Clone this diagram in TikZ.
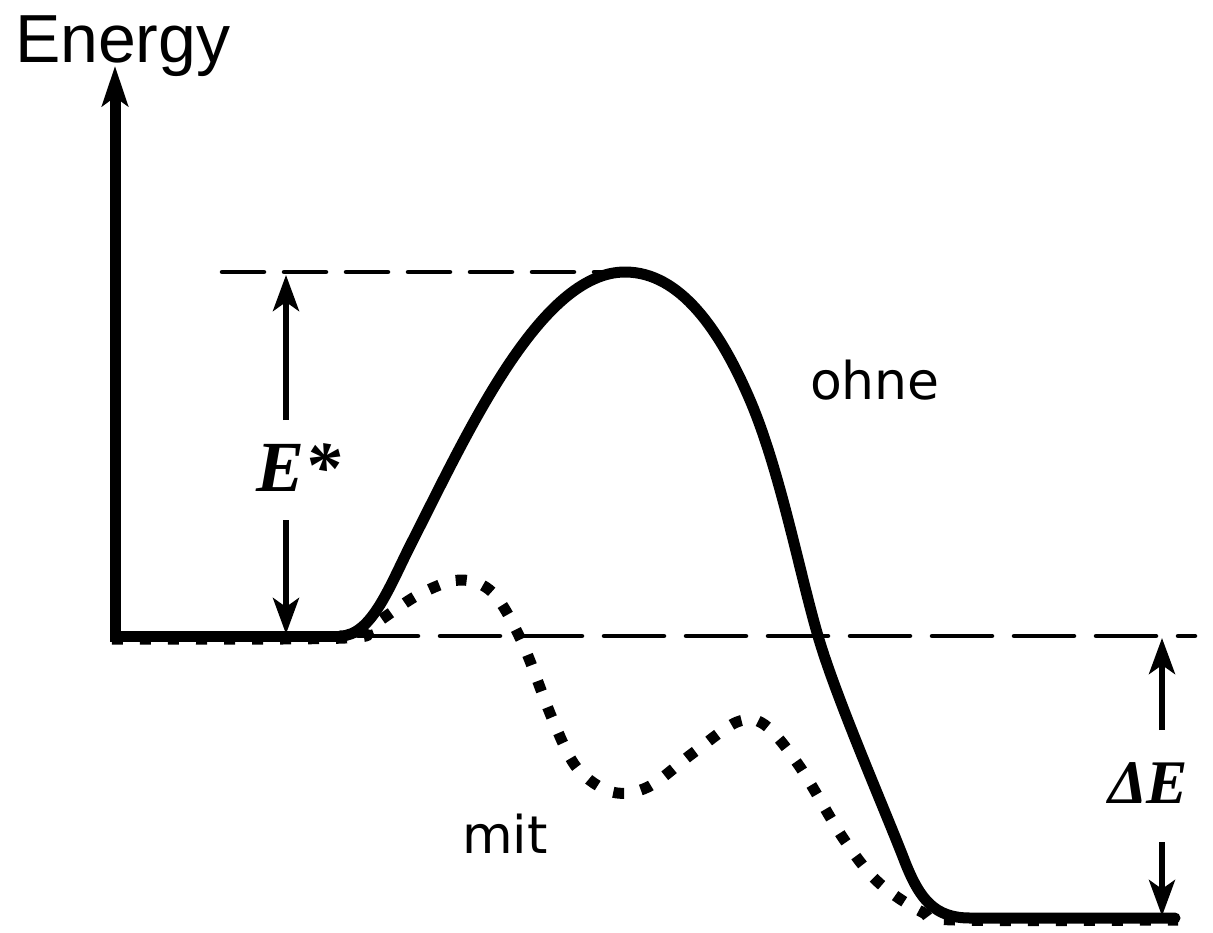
\documentclass[tikz,border=0pt]{standalone}
\usepackage{fontspec}
\setmainfont{Liberation Serif}
\newfontfamily\arialfont{Liberation Sans}
\newfontfamily\dejafont{DejaVu Sans}
\usetikzlibrary{arrows.meta}
\begin{document}
\begin{tikzpicture}[x=1pt,y=-1pt,
  axisline/.style={line width=11pt, line join=miter, {Stealth[length=40pt,width=26pt,inset=9pt]}-},
  dimarrow/.style={line width=5.5pt, -{Stealth[length=36pt,width=26pt,inset=9pt]}},
  refupper/.style={line width=4.5pt, dash pattern=on 42pt off 20pt, line cap=round},
  reflower/.style={line width=4.5pt, dash pattern=on 60pt off 22pt, line cap=round},
  solidcurve/.style={line width=11pt, line cap=round, line join=round},
  dottedcurve/.style={line width=11pt, dash pattern=on 11pt off 17pt},
  lbl/.style={inner sep=0pt, outer sep=0pt, anchor=base west}]
\useasboundingbox (0,0) rectangle (1213,932);
\fill[white] (0,0) rectangle (1213,932);

% coordinates
\coordinate (ytop) at (115,66);
\coordinate (corner) at (115,636);
\coordinate (cstart) at (340,636);
\coordinate (ulineL) at (222,272);
\coordinate (ulineR) at (618,272);
\coordinate (llineR) at (1195,636);
\coordinate (estop) at (286,275);
\coordinate (esa) at (286,420);
\coordinate (esb) at (286,520);
\coordinate (esbot) at (286,634);
\coordinate (detop) at (1162,638);
\coordinate (dea) at (1162,730);
\coordinate (deb) at (1162,842);
\coordinate (debot) at (1162,916);
\coordinate (cend) at (1175,918);

% reference dashed lines
\draw[refupper] (ulineL) -- (ulineR);
\draw[reflower] (cstart) ++(18,0) -- (llineR);

% dotted curve (with catalyst)
\draw[dottedcurve] plot[smooth, tension=0.55] coordinates {
  (112,639) (345,638) (370,627) (418,595) (460,580) (493,593) (522,642)
  (552,718) (577,768) (612,792) (648,787) (693,753) (737,722) (765,725)
  (800,767) (843,838) (878,882) (922,912) (955,920) (1178,920)};

% solid curve (without catalyst)
\draw[solidcurve] (cstart)
  .. controls (372,636) and (390,585) .. (412,542)
  .. controls (467,434) and (540,272) .. (625,272)
  .. controls (680,272) and (720,330) .. (750,400)
  .. controls (780,470) and (800,575) .. (818,636)
  .. controls (836,698) and (885,810) .. (905,862)
  .. controls (920,900) and (935,918) .. (970,918)
  -- (cend);

% axes
\draw[axisline] (ytop) -- (corner) -- (cstart);

% dimension arrows
\draw[dimarrow] (esa) -- (estop);
\draw[dimarrow] (esb) -- (esbot);
\draw[dimarrow] (dea) -- (detop);
\draw[dimarrow] (deb) -- (debot);

% labels
\node[lbl, font=\arialfont\fontsize{68}{68}\selectfont] (energy) at (15,62) {Energy};
\node[lbl, font=\bfseries\itshape\fontsize{72}{72}\selectfont] (estar) at (256,491) {E*};
\node[lbl, font=\bfseries\itshape\fontsize{62}{62}\selectfont] (deltae) at (1108,803) {ΔE};
\node[lbl, font=\dejafont\fontsize{52}{52}\selectfont] (ohne) at (810,399) {ohne};
\node[lbl, font=\dejafont\fontsize{52}{52}\selectfont] (mit) at (462,853) {mit};
\end{tikzpicture}
\end{document}
